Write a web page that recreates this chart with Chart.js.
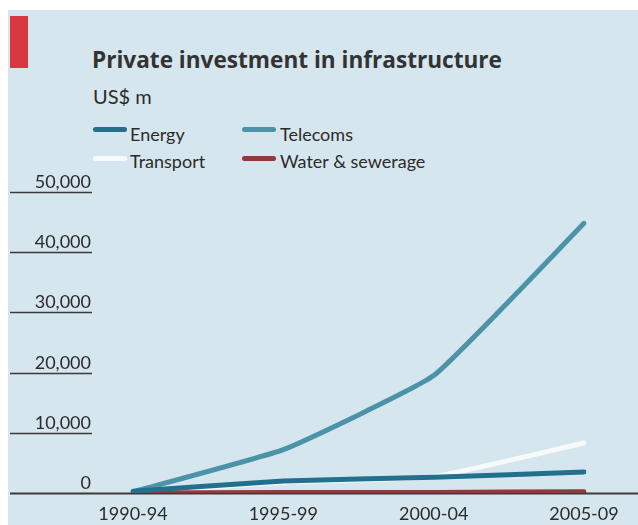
<!DOCTYPE html>
<html>
<head>
<meta charset="utf-8">
<script src="https://cdn.jsdelivr.net/npm/chart.js@4/dist/chart.umd.min.js"></script>
<style>
  html, body { margin: 0; padding: 0; background: #fff; }
  #wrap { position: relative; width: 638px; height: 525px; overflow: hidden; }
  #panel { position: absolute; left: 8px; top: 10px; right: 0; bottom: 0; background: #d6e6ee; }
  #chart { position: absolute; left: 0; top: 0; }
  .tag { position: absolute; left: 10px; top: 16px; width: 18px; height: 52px; background: #d8373f; }
  .txt { position: absolute; color: #2b2b2b; white-space: nowrap; }
  #title { left: 92px; top: 48px; font-family: "Open Sans", Lato, sans-serif; font-size: 22.6px; line-height: 23px; font-weight: bold; color: #333; }
  #unit { left: 93px; top: 86px; font-family: Lato, sans-serif; font-size: 20px; line-height: 20px; }
  .key { position: absolute; font-family: Lato, sans-serif; font-size: 18px; line-height: 18px; color: #2b2b2b; white-space: nowrap; }
  .swatch { position: absolute; width: 34px; height: 5px; border-radius: 3px; }
</style>
</head>
<body>
<div id="wrap">
  <div id="panel"></div>
  <div class="tag"></div>
  <div id="title" class="txt">Private investment in infrastructure</div>
  <div id="unit" class="txt">US$ m</div>
  <div id="legend"></div>
  <canvas id="chart" width="638" height="525"></canvas>
</div>
<script>
const periods = ['1990-94', '1995-99', '2000-04', '2005-09'];
const energy = [300, 2000, 2600, 3500];
const telecoms = [200, 7200, 19500, 44800];
const transport = [100, 1800, 2700, 8300];
const water = [0, 100, 100, 200];
const yTicks = [0, 10000, 20000, 30000, 40000, 50000];

const series = [
  { name: 'Energy', data: energy, color: '#236f8e', order: 1 },
  { name: 'Telecoms', data: telecoms, color: '#4b93a8', order: 2 },
  { name: 'Transport', data: transport, color: '#f6fafb', order: 4 },
  { name: 'Water & sewerage', data: water, color: '#8e3b3b', order: 3 }
];

// two-column key, same order as the series list
const legendBox = document.getElementById('legend');
series.forEach((s, i) => {
  const col = i % 2, row = Math.floor(i / 2);
  const sw = document.createElement('div');
  sw.className = 'swatch';
  sw.style.left = (col ? 242 : 93) + 'px';
  sw.style.top = (row ? 156 : 127) + 'px';
  sw.style.background = s.color;
  legendBox.appendChild(sw);
  const lab = document.createElement('div');
  lab.className = 'key';
  lab.textContent = s.name;
  lab.style.left = (col ? 280 : 130) + 'px';
  lab.style.top = (row ? 152 : 125) + 'px';
  legendBox.appendChild(lab);
});

// value labels sit on short rules at the left; the zero rule runs full width
const ruleLines = {
  id: 'ruleLines',
  beforeDatasetsDraw(chart) {
    const ctx = chart.ctx;
    const y = chart.scales.y;
    ctx.save();
    ctx.fillStyle = '#2b2b2b';
    ctx.font = '18px Lato';
    ctx.textAlign = 'right';
    ctx.textBaseline = 'alphabetic';
    y.ticks.forEach(t => {
      const py = Math.round(y.getPixelForValue(t.value)) + 0.5;
      ctx.strokeStyle = '#3a3a3a';
      ctx.lineWidth = t.value === 0 ? 1.8 : 1.5;
      ctx.beginPath();
      ctx.moveTo(10, py);
      ctx.lineTo(t.value === 0 ? chart.width : 92, py);
      ctx.stroke();
      ctx.fillText(t.value.toLocaleString('en-US'), 91, py - 5);
    });
    ctx.restore();
  }
};

new Chart(document.getElementById('chart').getContext('2d'), {
  type: 'line',
  data: {
    labels: periods,
    datasets: series.map(s => ({
      label: s.name,
      data: s.data,
      borderColor: s.color,
      backgroundColor: s.color,
      borderWidth: 5,
      borderCapStyle: 'round',
      borderJoinStyle: 'round',
      tension: 0.12,
      pointRadius: 0,
      order: s.order
    }))
  },
  options: {
    responsive: false,
    animation: false,
    devicePixelRatio: 1,
    layout: { padding: { top: 192, right: 54, left: 0, bottom: 0 } },
    plugins: {
      legend: { display: false },
      tooltip: { enabled: false }
    },
    scales: {
      x: {
        offset: false,
        grid: { display: false, drawTicks: false },
        border: { display: false },
        ticks: {
          padding: 10,
          maxRotation: 0,
          color: '#2b2b2b',
          font: { family: 'Lato', size: 18 }
        },
        afterFit(scale) { scale.height = 32; }
      },
      y: {
        min: 0,
        max: 50000,
        afterBuildTicks(scale) { scale.ticks = yTicks.map(v => ({ value: v })); },
        grid: { display: false, drawTicks: false },
        border: { display: false },
        ticks: { display: false },
        afterFit(scale) { scale.width = 133; }
      }
    }
  },
  plugins: [ruleLines]
});
</script>
</body>
</html>
